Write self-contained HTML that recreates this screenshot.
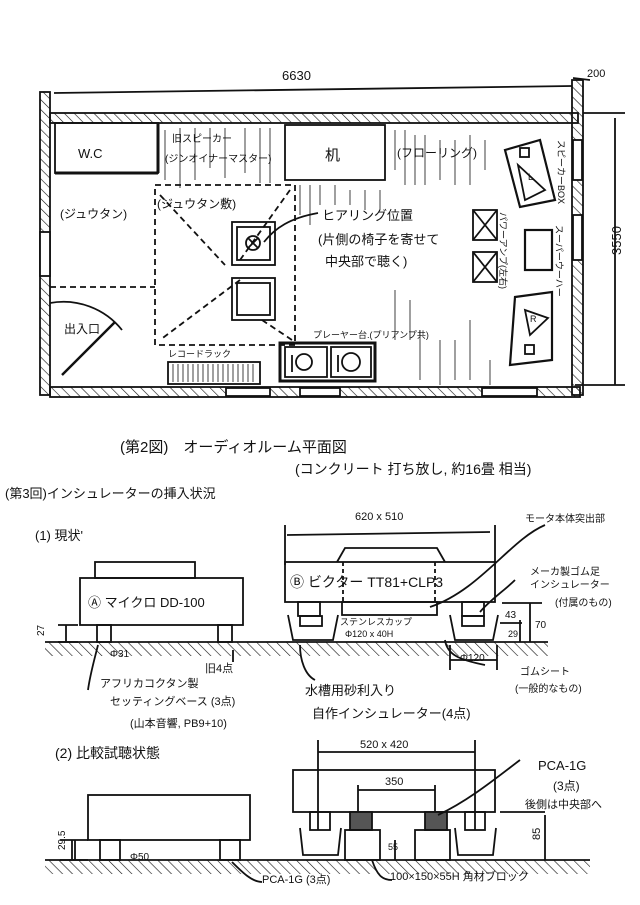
<!DOCTYPE html>
<html><head><meta charset="utf-8"><style>
html,body{margin:0;padding:0;background:#fff}
svg{display:block}
text{font-family:"Liberation Sans","Noto Sans CJK JP",sans-serif;fill:#111}
</style></head><body>
<svg width="640" height="905" viewBox="0 0 640 905" xmlns="http://www.w3.org/2000/svg">
<defs>
<pattern id="h" width="7" height="7" patternUnits="userSpaceOnUse" patternTransform="rotate(-45)">
<line x1="0" y1="0" x2="0" y2="7" stroke="#111" stroke-width="1.2"/></pattern>
</defs>
<rect width="640" height="905" fill="#fff"/>
<g stroke="#111" stroke-width="1.8" fill="none">
<rect x="40" y="92" width="10" height="303" fill="url(#h)"/>
<rect x="50" y="113" width="528" height="10" fill="url(#h)"/>
<rect x="572" y="80" width="11" height="315" fill="url(#h)"/>
<rect x="50" y="387" width="530" height="10" fill="url(#h)"/>
<rect x="40" y="232" width="10" height="44" fill="#fff"/>
<rect x="573" y="140" width="9" height="40" fill="#fff"/>
<rect x="573" y="215" width="9" height="45" fill="#fff"/>
<rect x="226" y="388" width="44" height="8" fill="#fff"/>
<rect x="300" y="388" width="40" height="8" fill="#fff"/>
<rect x="482" y="388" width="55" height="8" fill="#fff"/>
<line x1="54" y1="93" x2="572" y2="86"/>
<line x1="573" y1="78" x2="590" y2="80"/>
<line x1="583" y1="113" x2="625" y2="113"/>
<line x1="615" y1="118" x2="615" y2="385"/>
<line x1="575" y1="385" x2="625" y2="385"/>
<rect x="55" y="123" width="103" height="50"/>
<line x1="158" y1="123" x2="158" y2="173" stroke-width="3"/>
<line x1="55" y1="173" x2="158" y2="173" stroke-width="3"/>
<rect x="285" y="125" width="100" height="55"/>
<path d="M165 130v50M180 128v60M195 128v52M210 128v40M225 128v50M245 128v45M260 128v55M270 128v55M395 130v40M405 130v55M415 135v50M425 135v50M440 140v40M455 140v45M470 135v50M485 140v30M300 185v30M310 185v40M320 185v20M335 185v20M350 190v15M365 190v20M380 190v20M395 290v50M410 300v40M420 330v50M440 340v45M455 340v40M470 320v60M490 360v25" stroke-width="0.8"/>
<rect x="155" y="185" width="140" height="160" stroke-dasharray="6,4"/>
<path d="M160 195L225 265M290 190L240 260M240 280L160 340M262 320L292 340" stroke-dasharray="6,4"/>
<line x1="50" y1="287" x2="155" y2="287" stroke-dasharray="6,4"/>
<rect x="232" y="222" width="43" height="43"/>
<rect x="237" y="227" width="33" height="33"/>
<circle cx="253" cy="243" r="7"/><path d="M248 238l10 10M258 238l-10 10"/>
<rect x="232" y="278" width="43" height="42"/>
<rect x="237" y="283" width="33" height="32"/>
<path d="M318 213C290 218 275 228 264 242"/>
<line x1="62" y1="375" x2="115" y2="322" stroke-width="2.5"/>
<path d="M50 303A75 75 0 0 1 122 330"/>
<rect x="168" y="362" width="92" height="22"/>
<path d="M173 364v18M178 364v18M183 364v18M188 364v18M193 364v18M198 364v18M203 364v18M208 364v18M213 364v18M218 364v18M223 364v18M228 364v18M233 364v18M238 364v18M243 364v18M248 364v18M253 364v18" stroke-width="0.8"/>
<rect x="280" y="343" width="95" height="38" stroke-width="3"/>
<rect x="285" y="347" width="42" height="30"/><rect x="331" y="347" width="40" height="30"/>
<circle cx="304" cy="362" r="8"/><circle cx="351" cy="362" r="9"/>
<line x1="292" y1="355" x2="292" y2="372"/><line x1="338" y1="355" x2="338" y2="372"/>
<polygon points="505,150 540,140 555,200 520,207" stroke-width="2.2"/>
<polygon points="518,165 545,190 525,200"/>
<rect x="520" y="148" width="9" height="9"/>
<polygon points="515,297 552,292 552,360 510,365" stroke-width="2.2"/>
<polygon points="525,310 548,318 530,335"/>
<rect x="525" y="345" width="9" height="9"/>
<rect x="473" y="210" width="24" height="30"/><path d="M473 210l24 30M497 210l-24 30"/>
<rect x="473" y="252" width="24" height="30"/><path d="M473 252l24 30M497 252l-24 30"/>
<rect x="525" y="230" width="27" height="40" stroke-width="2.2"/>

<line x1="45" y1="642" x2="548" y2="642"/>
<rect x="45" y="642" width="503" height="14" fill="url(#h)" stroke="none"/>
<rect x="80" y="578" width="163" height="47"/>
<rect x="95" y="562" width="100" height="16"/>
<rect x="97" y="625" width="14" height="17"/><rect x="218" y="625" width="14" height="17"/>
<path d="M58 625h20M58 642h20M66 625v17"/>
<rect x="285" y="562" width="210" height="40"/>
<path d="M337 562l8 -14h92l8 14"/>
<rect x="342" y="602" width="95" height="13"/>
<path d="M343 562v40M435 562v40" stroke-dasharray="4,3"/>
<line x1="287" y1="535" x2="490" y2="532"/><path d="M285 525v40M495 525v40"/>
<rect x="298" y="602" width="22" height="14"/><rect x="462" y="602" width="22" height="14"/>
<path d="M288 615l5 25h40l5 -25"/><path d="M450 615l5 25h38l5 -25"/>
<rect x="300" y="616" width="22" height="10"/><rect x="462" y="616" width="22" height="10"/>
<path d="M502 603h40M500 623h22M530 603v39M520 620v22M450 660h47M450 645v25M497 645v25"/>
<path d="M545 525C510 540 480 590 430 607M515 580C505 590 490 600 480 612M445 640c2 15 15 20 40 25M300 645c0 15 5 30 15 35M98 645c-5 20 -8 30 -10 45M233 650v12"/>

<line x1="45" y1="860" x2="590" y2="860"/>
<rect x="45" y="860" width="545" height="14" fill="url(#h)" stroke="none"/>
<rect x="88" y="795" width="162" height="45"/>
<rect x="100" y="840" width="20" height="20"/><rect x="220" y="840" width="20" height="20"/>
<path d="M60 840h28M60 860h28M72 840v20"/>
<rect x="293" y="770" width="202" height="42"/>
<path d="M318 740v90M475 740v90M358 785v45M435 785v45"/>
<line x1="318" y1="752" x2="475" y2="752"/><line x1="358" y1="790" x2="435" y2="790"/>
<rect x="310" y="812" width="20" height="18"/><rect x="465" y="812" width="20" height="18"/>
<rect x="350" y="812" width="22" height="18" fill="#555"/><rect x="425" y="812" width="22" height="18" fill="#555"/>
<rect x="345" y="830" width="35" height="30"/><rect x="415" y="830" width="35" height="30"/>
<path d="M300 828l3 27h35l3 -27M455 828l3 27h35l3 -27"/>
<path d="M500 812h45M545 815v45M75 840v20M395 840v20"/>
<path d="M520 760c-20 15 -50 40 -82 55M232 862c10 10 20 20 30 20M372 860c5 15 10 20 20 20"/>
</g>
<g font-size="13">
<text x="282" y="80">6630</text>
<text x="587" y="77" font-size="11">200</text>
<text x="606" y="270" transform="rotate(-90 606 255)">3550</text>
<text x="78" y="158">W.C</text>
<text x="172" y="142" font-size="10">旧スピーカー</text>
<text x="165" y="162" font-size="10">(ジンオイナーマスター)</text>
<text x="325" y="160" font-size="15">机</text>
<text x="397" y="157" font-size="12">(フローリング)</text>
<text x="60" y="218" font-size="12">(ジュウタン)</text>
<text x="157" y="208" font-size="12">(ジュウタン敷)</text>
<text x="322" y="220">ヒアリング位置</text>
<text x="318" y="244">(片側の椅子を寄せて</text>
<text x="325" y="266">中央部で聴く)</text>
<text x="64" y="333" font-size="12">出入口</text>
<text x="168" y="357" font-size="9">レコードラック</text>
<text x="313" y="338" font-size="9">プレーヤー台.(プリアンプ共)</text>
<text x="528" y="180" font-size="9">L</text>
<text x="530" y="322" font-size="9">R</text>
<text x="558" y="140" font-size="9" transform="rotate(90 558 140)">スピーカーBOX</text>
<text x="500" y="212" font-size="9" transform="rotate(90 500 212)">パワーアンプ(左右)</text>
<text x="556" y="225" font-size="9" transform="rotate(90 556 225)">スーパーウーハー</text>
<text x="120" y="452" font-size="15">(第2図)　オーディオルーム平面図</text>
<text x="295" y="474" font-size="14">(コンクリート 打ち放し, 約16畳 相当)</text>
<text x="5" y="498" font-size="13">(第3回)インシュレーターの挿入状況</text>
<text x="35" y="540" font-size="13">(1) 現状'</text>
<text x="88" y="607" font-size="13">Ⓐ マイクロ DD-100</text>
<text x="40" y="640" font-size="10" transform="rotate(-90 40 636)">27</text>
<text x="110" y="657" font-size="10">Φ31</text>
<text x="355" y="520" font-size="11">620 x 510</text>
<text x="290" y="587" font-size="14">Ⓑ ビクター TT81+CLP3</text>
<text x="525" y="522" font-size="10">モータ本体突出部</text>
<text x="530" y="575" font-size="10">メーカ製ゴム足</text>
<text x="530" y="588" font-size="10">インシュレーター</text>
<text x="555" y="606" font-size="10">(付属のもの)</text>
<text x="505" y="618" font-size="10">43</text>
<text x="535" y="628" font-size="10">70</text>
<text x="508" y="637" font-size="9">29</text>
<text x="340" y="625" font-size="9">ステンレスカップ</text>
<text x="345" y="637" font-size="9">Φ120 x 40H</text>
<text x="460" y="661" font-size="10">Φ120</text>
<text x="520" y="675" font-size="10">ゴムシート</text>
<text x="515" y="692" font-size="10">(一般的なもの)</text>
<text x="100" y="687" font-size="11">アフリカコクタン製</text>
<text x="110" y="705" font-size="11">セッティングベース (3点)</text>
<text x="130" y="727" font-size="11">(山本音響, PB9+10)</text>
<text x="205" y="672" font-size="11">旧4点</text>
<text x="305" y="695" font-size="13">水槽用砂利入り</text>
<text x="312" y="718" font-size="13">自作インシュレーター(4点)</text>
<text x="55" y="758" font-size="14">(2) 比較試聴状態</text>
<text x="360" y="748" font-size="11">520 x 420</text>
<text x="385" y="785" font-size="11">350</text>
<text x="130" y="860" font-size="10">Φ50</text>
<text x="53" y="862" font-size="10" transform="rotate(-90 53 850)">29.5</text>
<text x="388" y="850" font-size="9">55</text>
<text x="262" y="883" font-size="11">PCA-1G (3点)</text>
<text x="390" y="880" font-size="11">100×150×55H 角材ブロック</text>
<text x="538" y="770" font-size="13">PCA-1G</text>
<text x="553" y="790" font-size="12">(3点)</text>
<text x="525" y="808" font-size="11">後側は中央部へ</text>
<text x="535" y="845" font-size="11" transform="rotate(-90 535 840)">85</text>
</g>
</svg>
</body></html>
